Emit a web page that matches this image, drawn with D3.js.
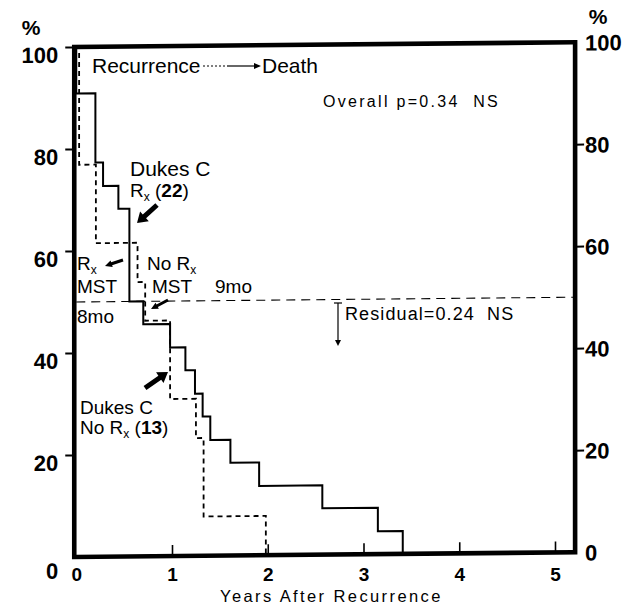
<!DOCTYPE html>
<html>
<head>
<meta charset="utf-8">
<script src="https://cdn.jsdelivr.net/npm/d3@7/dist/d3.min.js"></script>
<style>
  html, body { margin: 0; padding: 0; background: #fff; }
  svg { display: block; }
  text { font-family: "Liberation Sans", Arial, sans-serif; fill: #000; white-space: pre; }
  .tick text { font-family: "Liberation Sans", Arial, sans-serif; font-weight: bold; }
</style>
</head>
<body>
<svg id="chart" width="636" height="605"></svg>
<script>
// ---- Data ----
// Dukes C, Rx (22): Kaplan-Meier steps (years, % surviving)
const rxTimes = [0, 0, 0.20, 0.28, 0.44, 0.555, 0.70, 0.98, 1.14, 1.24, 1.32, 1.40, 1.61, 1.91, 2.57, 3.15, 3.41];
const rxSurv  = [100, 90.9, 77.3, 72.7, 68.2, 50.0, 45.5, 40.9, 36.4, 31.8, 27.3, 22.7, 18.2, 13.6, 9.1, 4.5, 0];
// Dukes C, No Rx (13)
const noRxTimes = [0, 0.03, 0.205, 0.64, 0.72, 0.98, 1.25, 1.33, 1.98];
const noRxSurv  = [100, 76.9, 61.5, 53.8, 46.2, 30.8, 23.1, 7.7, 0];
// Axes
const xTicks = [0, 1, 2, 3, 4, 5];
const yTicks = [0, 20, 40, 60, 80, 100];
const xMaxFrame = 5.21;
const medianLevel = 50;

// ---- Scales ----
const x = d3.scaleLinear().domain([0, 5]).range([76.25, 555]);
const y = d3.scaleLinear().domain([0, 100]).range([557, 47]);

const svg = d3.select("#chart");
const x0 = x(0), y0 = y(0);

// slightly tilted plotting frame, as in the scanned original
const g = svg.append("g")
  .attr("transform", `translate(${x0},${y0}) skewY(-0.55) translate(${-x0},${-y0})`);

// median reference line
g.append("line")
  .attr("x1", x(0)).attr("x2", x(xMaxFrame))
  .attr("y1", y(medianLevel)).attr("y2", y(medianLevel))
  .attr("stroke", "#000").attr("stroke-width", 1.1)
  .attr("stroke-dasharray", "9,6");

// step curves
const line = d3.line().curve(d3.curveStepAfter)
  .x(d => x(d[0])).y(d => y(d[1]));

g.append("path")
  .datum(rxTimes.map((t, i) => [t, rxSurv[i]]))
  .attr("d", line)
  .attr("fill", "none").attr("stroke", "#000").attr("stroke-width", 2);

g.append("path")
  .datum(noRxTimes.map((t, i) => [t, noRxSurv[i]]))
  .attr("d", line)
  .attr("fill", "none").attr("stroke", "#000").attr("stroke-width", 1.8)
  .attr("stroke-dasharray", "5,4");

// frame
g.append("rect")
  .attr("x", x(0) - 2).attr("y", y(100))
  .attr("width", x(xMaxFrame) - x(0) + 2).attr("height", y(0) - y(100))
  .attr("fill", "none").attr("stroke", "#000").attr("stroke-width", 4.6);

// left axis
const yl = g.append("g").attr("transform", `translate(${x(0) - 2},0)`)
  .call(d3.axisLeft(y).tickValues(yTicks).tickSize(9).tickSizeOuter(0).tickPadding(6));
yl.select(".domain").remove();
yl.selectAll(".tick line").attr("stroke", "#000").attr("stroke-width", 2);
yl.selectAll(".tick text")
  .attr("font-size", 22).attr("x", -16).attr("dy", d => d === 0 ? "0.95em" : "0.68em");
yl.selectAll(".tick").filter(d => d === 0).select("line").remove();

// right axis
const yr = g.append("g").attr("transform", `translate(${x(xMaxFrame)},0)`)
  .call(d3.axisRight(y).tickValues(yTicks).tickSize(9).tickSizeOuter(0).tickPadding(2));
yr.select(".domain").remove();
yr.selectAll(".tick line").attr("stroke", "#000").attr("stroke-width", 2);
yr.selectAll(".tick text").attr("font-size", 22).attr("x", 10).attr("dy", "0.36em");
yr.selectAll(".tick").filter(d => d === 0 || d === 100).select("line").remove();

// x ticks (inside)
const xt = g.append("g").attr("transform", `translate(0,${y(0)})`)
  .call(d3.axisBottom(x).tickValues(xTicks.filter(d => d > 0)).tickSize(-11).tickFormat(""));
xt.select(".domain").remove();
xt.selectAll(".tick line").attr("stroke", "#000").attr("stroke-width", 1.6);

// x tick labels (not tilted)
const xl = svg.append("g").attr("transform", `translate(0,${y(0)})`)
  .call(d3.axisBottom(x).tickValues(xTicks).tickFormat(d3.format("d")).tickSize(0).tickPadding(0));
xl.select(".domain").remove();
xl.selectAll(".tick text").attr("font-size", 19).attr("y", 24).attr("dy", 0);

// % labels
svg.append("text").attr("x", 31).attr("y", 35).attr("text-anchor", "middle")
  .attr("font-size", 21).attr("font-weight", "bold").text("%");
svg.append("text").attr("x", 598).attr("y", 24).attr("text-anchor", "middle")
  .attr("font-size", 21).attr("font-weight", "bold").text("%");

// x title
svg.append("text").attr("x", 220).attr("y", 602)
  .attr("font-size", 16.5).attr("letter-spacing", 2.4).text("Years After Recurrence");

// ---- annotations ----
function arrowPath(x1, y1, x2, y2, w, hw, hl) {
  const dx = x2 - x1, dy = y2 - y1, L = Math.hypot(dx, dy);
  const ux = dx / L, uy = dy / L, px = -uy, py = ux;
  const bx = x2 - ux * hl, by = y2 - uy * hl;
  const p = [
    [x1 + px * w / 2, y1 + py * w / 2],
    [bx + px * w / 2, by + py * w / 2],
    [bx + px * hw / 2, by + py * hw / 2],
    [x2, y2],
    [bx - px * hw / 2, by - py * hw / 2],
    [bx - px * w / 2, by - py * w / 2],
    [x1 - px * w / 2, y1 - py * w / 2]
  ];
  return "M" + p.map(q => q.join(",")).join("L") + "Z";
}
const ann = svg.append("g");

ann.append("text").attr("x", 92).attr("y", 73).attr("font-size", 21).text("Recurrence");
ann.append("line").attr("x1", 203).attr("x2", 227).attr("y1", 66).attr("y2", 66)
  .attr("stroke", "#000").attr("stroke-width", 1).attr("stroke-dasharray", "2,2");
ann.append("line").attr("x1", 227).attr("x2", 255).attr("y1", 66).attr("y2", 66)
  .attr("stroke", "#000").attr("stroke-width", 1.2);
ann.append("path").attr("d", "M254,63 L261,66 L254,69 Z").attr("fill", "#000");
ann.append("text").attr("x", 262).attr("y", 73).attr("font-size", 21).text("Death");

ann.append("text").attr("x", 323).attr("y", 107).attr("font-size", 16)
  .attr("letter-spacing", 2.3).text("Overall p=0.34  NS");

ann.append("text").attr("x", 130).attr("y", 176).attr("font-size", 21).text("Dukes C");
const t22 = ann.append("text").attr("x", 130).attr("y", 197).attr("font-size", 19);
t22.append("tspan").text("R");
t22.append("tspan").attr("font-size", 12).attr("dy", 4).text("x");
t22.append("tspan").attr("dy", -4).text(" (");
t22.append("tspan").attr("font-weight", "bold").text("22");
t22.append("tspan").text(")");
ann.append("path").attr("d", arrowPath(157, 205, 137, 223, 5, 13, 10)).attr("fill", "#000");

const tRx = ann.append("text").attr("x", 77).attr("y", 270).attr("font-size", 19);
tRx.append("tspan").text("R");
tRx.append("tspan").attr("font-size", 12).attr("dy", 4).text("x");
ann.append("path").attr("d", arrowPath(123, 260, 105, 266, 3, 7, 7)).attr("fill", "#000");
ann.append("text").attr("x", 77).attr("y", 293).attr("font-size", 19).text("MST");
ann.append("text").attr("x", 77).attr("y", 323).attr("font-size", 19).text("8mo");

const tNo = ann.append("text").attr("x", 147).attr("y", 270).attr("font-size", 19);
tNo.append("tspan").text("No R");
tNo.append("tspan").attr("font-size", 12).attr("dy", 4).text("x");
ann.append("text").attr("x", 152).attr("y", 293).attr("font-size", 19).text("MST");
ann.append("text").attr("x", 215).attr("y", 293).attr("font-size", 19).text("9mo");
ann.append("path").attr("d", arrowPath(168, 300, 151, 309, 3, 7, 7)).attr("fill", "#000");

ann.append("text").attr("x", 80).attr("y", 414).attr("font-size", 19).text("Dukes C");
const t13 = ann.append("text").attr("x", 80).attr("y", 434).attr("font-size", 19);
t13.append("tspan").text("No R");
t13.append("tspan").attr("font-size", 12).attr("dy", 4).text("x");
t13.append("tspan").attr("dy", -4).text(" (");
t13.append("tspan").attr("font-weight", "bold").text("13");
t13.append("tspan").text(")");
ann.append("path").attr("d", arrowPath(145, 388, 168, 372, 5, 13, 10)).attr("fill", "#000");

ann.append("text").attr("x", 345).attr("y", 320).attr("font-size", 18)
  .attr("letter-spacing", 1.1).text("Residual=0.24  NS");
ann.append("line").attr("x1", 338).attr("x2", 338).attr("y1", 303).attr("y2", 341)
  .attr("stroke", "#000").attr("stroke-width", 1.2);
ann.append("line").attr("x1", 334).attr("x2", 342).attr("y1", 303).attr("y2", 303)
  .attr("stroke", "#000").attr("stroke-width", 1.2);
ann.append("path").attr("d", "M335,340 L341,340 L338,346 Z").attr("fill", "#000");
</script>
</body>
</html>
